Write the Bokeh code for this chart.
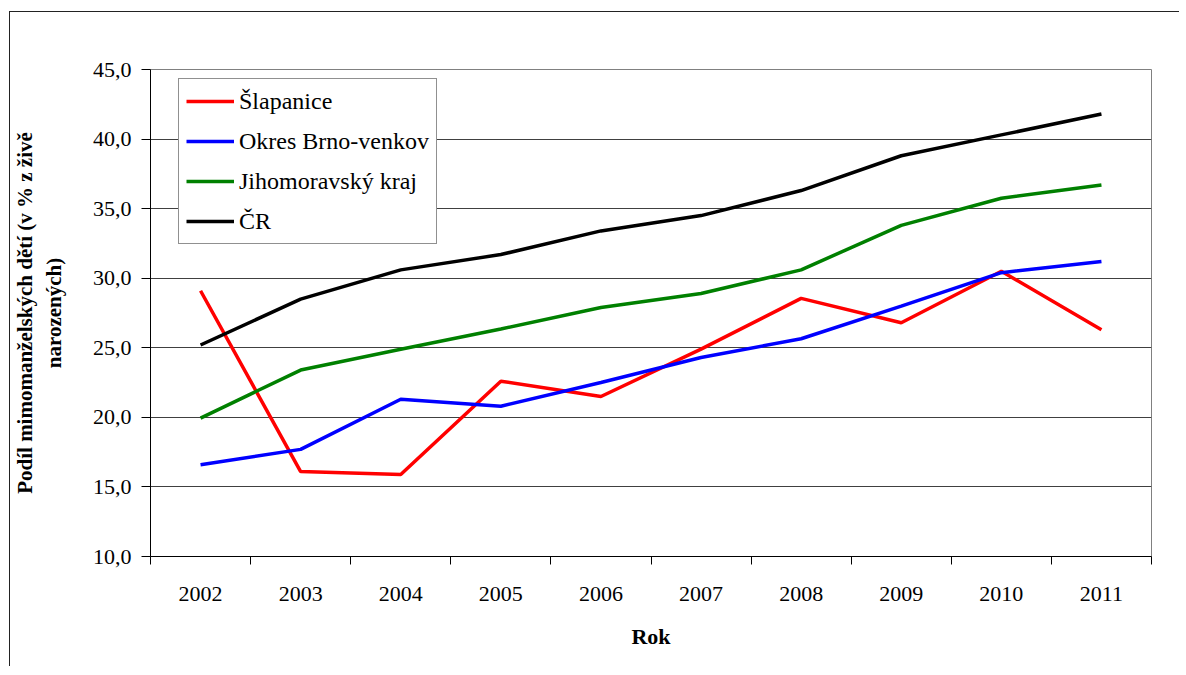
from bokeh.plotting import figure
from bokeh.models import Range1d, FixedTicker, Legend, LegendItem
from bokeh.embed import file_html
from bokeh.resources import INLINE

years = [2002, 2003, 2004, 2005, 2006, 2007, 2008, 2009, 2010, 2011]
slapanice = [29.1, 16.1, 15.9, 22.6, 21.5, 24.9, 28.55, 26.8, 30.5, 26.3]
brno_venkov = [16.6, 17.7, 21.3, 20.8, 22.5, 24.3, 25.65, 28.0, 30.4, 31.2]
jihomoravsky = [19.95, 23.4, 24.9, 26.35, 27.9, 28.9, 30.6, 33.8, 35.75, 36.7]
cr = [25.2, 28.5, 30.6, 31.7, 33.4, 34.5, 36.3, 38.8, 40.3, 41.8]

series_names = ["Šlapanice", "Okres Brno-venkov", "Jihomoravský kraj", "ČR"]
series_colors = ["#FF0000", "#0000FF", "#008000", "#000000"]

y_ticks = [10, 15, 20, 25, 30, 35, 40, 45]
y_tick_labels = ["10,0", "15,0", "20,0", "25,0", "30,0", "35,0", "40,0", "45,0"]
x_tick_labels = [str(y) for y in years]

FONT = "Liberation Serif"

p = figure(
    width=1170, height=655,
    output_backend="svg", toolbar_location=None,
    x_range=Range1d(years[0] - 0.5, years[-1] + 0.5),
    y_range=Range1d(10, 45),
    min_border_left=138, min_border_right=29,
    min_border_top=57, min_border_bottom=111,
    margin=(11, 0, 0, 9),
    styles={"border-top": "1px solid #222", "border-left": "1px solid #222"},
)
p.background_fill_color = "white"
p.border_fill_color = "white"
p.outline_line_color = "#808080"
p.outline_line_width = 1

# X axis: year labels at category centres, tick marks between categories
xa = p.xaxis[0]
xa.ticker = FixedTicker(ticks=years,
                        minor_ticks=[y - 0.5 for y in years] + [years[-1] + 0.5])
xa.major_label_overrides = {y: s for y, s in zip(years, x_tick_labels)}
xa.major_tick_out = 0
xa.major_tick_in = 0
xa.minor_tick_out = 8
xa.minor_tick_in = 0
xa.minor_tick_line_color = "black"
xa.axis_line_color = "black"
xa.major_label_text_font = FONT
xa.major_label_text_font_size = "22px"
xa.major_label_text_color = "black"
xa.major_label_standoff = 22
xa.axis_label = "Rok"
xa.axis_label_text_font = FONT
xa.axis_label_text_font_style = "bold"
xa.axis_label_text_font_size = "22px"
xa.axis_label_text_color = "black"
xa.axis_label_standoff = 20

ya = p.yaxis[0]
ya.ticker = FixedTicker(ticks=y_ticks)
ya.major_label_overrides = {t: s for t, s in zip(y_ticks, y_tick_labels)}
ya.major_tick_out = 9
ya.major_tick_in = 0
ya.minor_tick_out = 0
ya.minor_tick_in = 0
ya.major_tick_line_color = "black"
ya.axis_line_color = "black"
ya.major_label_text_font = FONT
ya.major_label_text_font_size = "22px"
ya.major_label_text_color = "black"
ya.major_label_standoff = 10
ya.axis_label = "Podíl mimomanželských dětí (v % z živě\nnarozených)"
ya.axis_label_text_font = FONT
ya.axis_label_text_font_style = "bold"
ya.axis_label_text_font_size = "21px"
ya.axis_label_text_color = "black"
ya.axis_label_standoff = 24

p.xgrid.visible = False
p.ygrid[0].ticker = FixedTicker(ticks=y_ticks)
p.ygrid.grid_line_color = "#404040"
p.ygrid.grid_line_width = 1

items = []
for name, vals, col in zip(series_names, [slapanice, brno_venkov, jihomoravsky, cr], series_colors):
    r = p.line(years, vals, line_color=col, line_width=3.5)
    items.append(LegendItem(label=name, renderers=[r]))

legend = Legend(items=items, location=(28, 312))
legend.label_text_font = FONT
legend.label_text_font_size = "24px"
legend.label_text_color = "black"
legend.glyph_width = 48
legend.glyph_height = 30
legend.label_height = 30
legend.label_standoff = 5
legend.spacing = 10
legend.padding = 7
legend.margin = 0
legend.border_line_color = "#222222"
legend.border_line_width = 1
legend.background_fill_color = "white"
legend.background_fill_alpha = 1
p.add_layout(legend, "center")

open("out.html", "w").write(file_html(p, INLINE))
